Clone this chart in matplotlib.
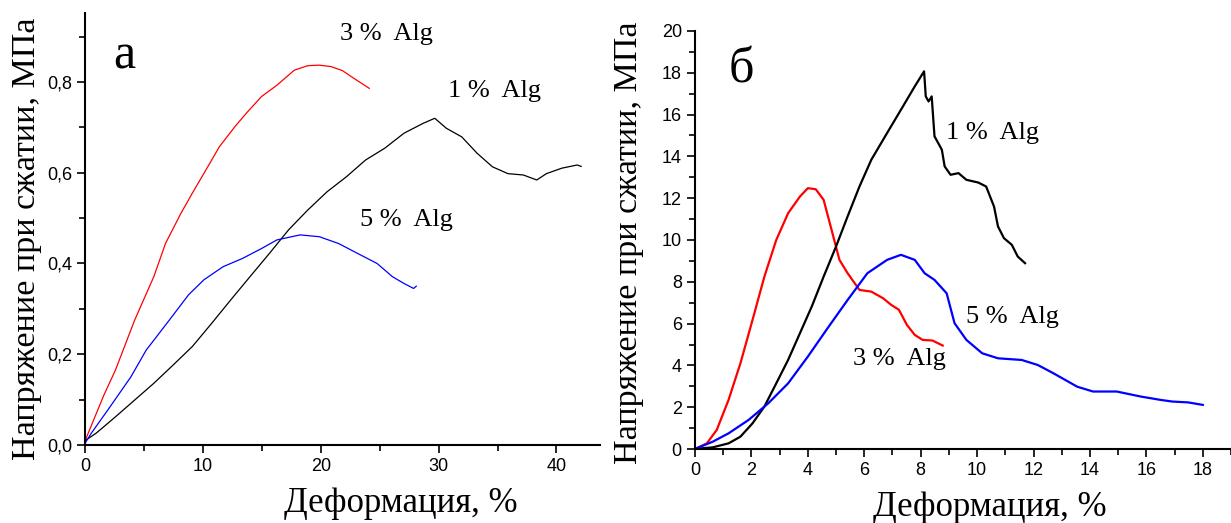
import matplotlib
matplotlib.use("Agg")
import matplotlib.pyplot as plt
from matplotlib.ticker import MultipleLocator, FuncFormatter

# ---------------- data: panel a ----------------
a_x_3 = [0, 1.57, 2.55, 4.18, 5.81, 6.8, 8.1, 9.08, 10.39, 11.37, 12.68, 13.66, 14.96,
         16.27, 17.74, 18.89, 19.87, 20.85, 21.83, 22.8, 24.1]
a_y_3 = [0.011, 0.110, 0.165, 0.275, 0.371, 0.444, 0.51, 0.555, 0.613, 0.657, 0.701, 0.731,
         0.768, 0.793, 0.826, 0.836, 0.837, 0.834, 0.825, 0.808, 0.786]

a_x_1 = [0, 0.91, 2.55, 4.18, 5.81, 7.44, 9.08, 10.72, 12.35, 13.98, 15.62, 17.25, 18.89,
         20.52, 22.16, 23.79, 25.42, 27.05, 28.69, 29.67, 30.65, 31.96, 33.26, 34.57,
         35.88, 37.19, 38.33, 39.15, 40.45, 41.76, 42.1]
a_y_1 = [0.01, 0.026, 0.062, 0.099, 0.136, 0.176, 0.217, 0.268, 0.320, 0.371, 0.422, 0.474,
         0.518, 0.558, 0.591, 0.628, 0.654, 0.687, 0.709, 0.72, 0.698, 0.679, 0.643, 0.613,
         0.598, 0.595, 0.584, 0.598, 0.61, 0.617, 0.614]

a_x_5 = [0, 0.5, 1.9, 3.86, 5.16, 7.12, 8.76, 10.06, 11.7, 13.33, 14.96, 16.27, 18.23,
         19.87, 21.5, 23.13, 24.77, 26.07, 27.05, 27.87, 28.1]
a_y_5 = [0.005, 0.026, 0.077, 0.150, 0.209, 0.275, 0.331, 0.364, 0.393, 0.411, 0.433, 0.452,
         0.463, 0.459, 0.444, 0.422, 0.400, 0.371, 0.356, 0.345, 0.35]

# ---------------- data: panel б ----------------
b_x_3 = [0, 0.42, 0.77, 1.19, 1.61, 2.04, 2.46, 2.88, 3.30, 3.72, 4.0, 4.28, 4.56, 4.84,
         5.12, 5.41, 5.83, 6.25, 6.67, 6.95, 7.23, 7.51, 7.79, 8.07, 8.42, 8.78]
b_y_3 = [0, 0.27, 0.91, 2.35, 4.10, 6.18, 8.25, 10.0, 11.28, 12.08, 12.48, 12.43, 11.92,
         10.49, 9.05, 8.41, 7.61, 7.53, 7.21, 6.90, 6.66, 5.94, 5.46, 5.22, 5.19, 4.95]

b_x_1 = [0, 0.63, 1.19, 1.61, 2.04, 2.46, 2.88, 3.30, 3.72, 4.14, 4.56, 5.0, 5.41, 5.83,
         6.25, 6.81, 7.37, 7.79, 8.12, 8.18, 8.28, 8.39, 8.49, 8.75, 8.85, 9.06, 9.34,
         9.62, 10.04, 10.32, 10.6, 10.74, 10.95, 11.23, 11.44, 11.7]
b_y_1 = [0, 0.08, 0.27, 0.59, 1.23, 2.03, 3.14, 4.26, 5.54, 6.82, 8.25, 9.69, 11.13, 12.56,
         13.84, 15.12, 16.39, 17.35, 18.07, 16.87, 16.63, 16.87, 14.96, 14.32, 13.52,
         13.12, 13.2, 12.88, 12.75, 12.56, 11.6, 10.65, 10.09, 9.77, 9.21, 8.89]

b_x_5 = [0, 0.63, 1.19, 1.9, 2.6, 3.30, 4.0, 4.70, 5.41, 6.11, 6.81, 7.30, 7.79, 8.14,
         8.49, 8.92, 9.2, 9.62, 10.18, 10.74, 11.58, 12.15, 12.71, 13.55, 14.11, 14.95,
         15.8, 16.5, 16.92, 17.48, 18.0]
b_y_5 = [0, 0.35, 0.75, 1.39, 2.19, 3.14, 4.42, 5.78, 7.13, 8.41, 9.05, 9.29, 9.05, 8.41,
         8.09, 7.45, 6.02, 5.22, 4.58, 4.34, 4.26, 4.02, 3.62, 2.98, 2.75, 2.75, 2.51,
         2.35, 2.27, 2.23, 2.11]

xlabel = "Деформация, %"
ylabel = "Напряжение при сжатии, МПа"
lbl3, lbl1, lbl5 = "3 %  Alg", "1 %  Alg", "5 %  Alg"

SERIF = "Liberation Serif"
SANS = "Liberation Sans"

W, H = 1231, 523
fig = plt.figure(figsize=(W / 100, H / 100), dpi=100)


def px_axes(x0, x1, ytop, ybot):
    return fig.add_axes([x0 / W, 1 - ybot / H, (x1 - x0) / W, (ybot - ytop) / H])


def style(ax):
    for s in ("top", "right"):
        ax.spines[s].set_visible(False)
    for s in ("left", "bottom"):
        ax.spines[s].set_linewidth(1.5)
    ax.tick_params(which="both", direction="out", width=1.2)
    ax.tick_params(which="major", length=6)
    ax.tick_params(which="minor", length=4)
    for lab in ax.get_xticklabels() + ax.get_yticklabels():
        lab.set_fontfamily(SANS)
        lab.set_fontsize(13)


# ---------- panel a ----------
ax1 = px_axes(85.4, 600, 13, 445)
ax1.plot(a_x_3, a_y_3, color="red", lw=0.9)
ax1.plot(a_x_1, a_y_1, color="black", lw=0.9)
ax1.plot(a_x_5, a_y_5, color="blue", lw=0.9)
ax1.set_xlim(0, 43.7)
ax1.set_ylim(0, 0.952)
ax1.xaxis.set_major_locator(MultipleLocator(10))
ax1.xaxis.set_minor_locator(MultipleLocator(5))
ax1.yaxis.set_major_locator(MultipleLocator(0.2))
ax1.yaxis.set_minor_locator(MultipleLocator(0.1))
ax1.yaxis.set_major_formatter(FuncFormatter(lambda v, p: f"{v:.1f}".replace(".", ",")))
style(ax1)
ax1.set_xlabel(xlabel, family=SERIF, fontsize=25)
ax1.xaxis.set_label_coords((401 - 85.4) / 514.6, (445 - 504) / 432)
ax1.xaxis.label.set_va("center")
ax1.set_ylabel(ylabel, family=SERIF, fontsize=24.5)
ax1.yaxis.set_label_coords((27 - 85.4) / 514.6, (445 - 239) / 432)
ax1.yaxis.label.set_va("center")
ax1.text(0.055, 0.9, "а", transform=ax1.transAxes, family=SERIF, fontsize=36,
         ha="left", va="center")
ax1.text(21.6, 0.905, lbl3, family=SERIF, fontsize=19, ha="left", va="center")
ax1.text(30.8, 0.78, lbl1, family=SERIF, fontsize=19, ha="left", va="center")
ax1.text(23.3, 0.495, lbl5, family=SERIF, fontsize=19, ha="left", va="center")

# ---------- panel б ----------
ax2 = px_axes(695, 1231, 31, 449)
ax2.plot(b_x_3, b_y_3, color="red", lw=1.6)
ax2.plot(b_x_1, b_y_1, color="black", lw=1.6)
ax2.plot(b_x_5, b_y_5, color="blue", lw=1.6)
ax2.set_xlim(0, 19.0)
ax2.set_ylim(0, 20)
ax2.xaxis.set_major_locator(MultipleLocator(2))
ax2.xaxis.set_minor_locator(MultipleLocator(1))
ax2.yaxis.set_major_locator(MultipleLocator(2))
ax2.yaxis.set_minor_locator(MultipleLocator(1))
style(ax2)
ax2.set_xlabel(xlabel, family=SERIF, fontsize=25)
ax2.xaxis.set_label_coords((990 - 695) / 536, (449 - 508) / 418)
ax2.xaxis.label.set_va("center")
ax2.set_ylabel(ylabel, family=SERIF, fontsize=24.5)
ax2.yaxis.set_label_coords((629 - 695) / 536, (449 - 243) / 418)
ax2.yaxis.label.set_va("center")
ax2.text(1.2, 18.1, "б", family=SERIF, fontsize=36, ha="left", va="center")
ax2.text(8.9, 15.1, lbl1, family=SERIF, fontsize=19, ha="left", va="center")
ax2.text(9.6, 6.3, lbl5, family=SERIF, fontsize=19, ha="left", va="center")
ax2.text(5.6, 4.3, lbl3, family=SERIF, fontsize=19, ha="left", va="center")

fig.savefig("out.png", dpi=100)
